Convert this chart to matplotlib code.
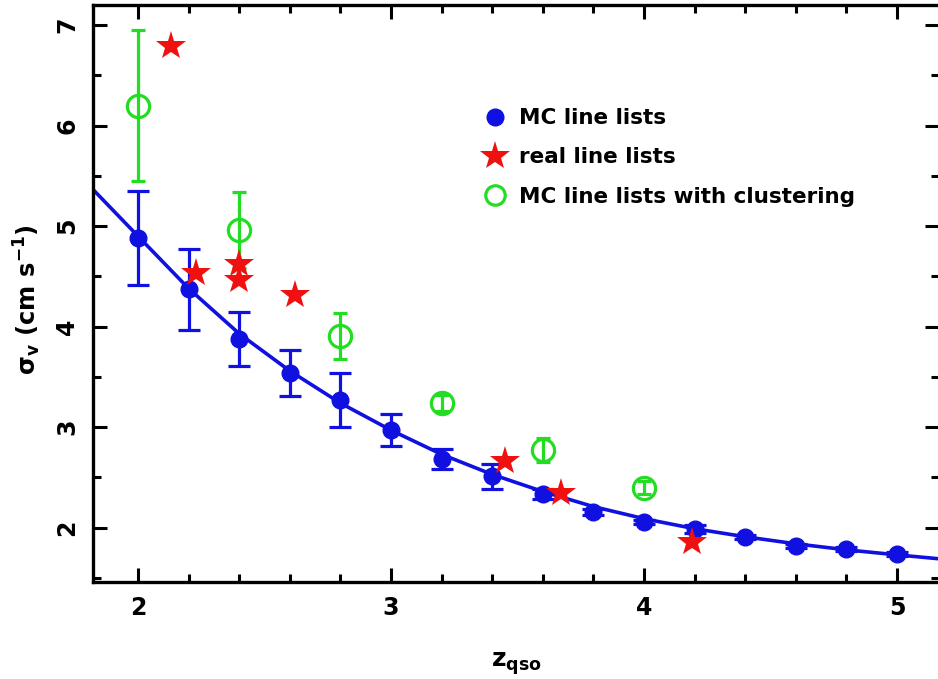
import matplotlib
matplotlib.use("Agg")
import matplotlib.pyplot as plt
from matplotlib.lines import Line2D
from matplotlib.ticker import MultipleLocator

# MC line lists
mc_z = [2.0, 2.2, 2.4, 2.6, 2.8, 3.0, 3.2, 3.4, 3.6, 3.8, 4.0, 4.2, 4.4, 4.6, 4.8, 5.0]
mc_sig = [4.88, 4.37, 3.88, 3.54, 3.27, 2.97, 2.68, 2.51, 2.34, 2.16, 2.06, 1.99, 1.91, 1.82, 1.79, 1.74]
mc_err = [0.47, 0.40, 0.27, 0.23, 0.27, 0.16, 0.10, 0.12, 0.05, 0.03, 0.02, 0.04, 0.02, 0.02, 0.02, 0.02]

# fitted curve
fit_z = [1.82, 2.0, 2.2, 2.4, 2.6, 2.8, 3.0, 3.2, 3.4, 3.6, 3.8, 4.0, 4.2, 4.4, 4.6, 4.8, 5.0, 5.17]
fit_sig = [5.37, 4.90, 4.38, 3.93, 3.56, 3.24, 2.97, 2.73, 2.53, 2.36, 2.21, 2.09, 1.99, 1.91, 1.84, 1.78, 1.73, 1.69]

# real line lists
real_z = [2.13, 2.23, 2.40, 2.40, 2.62, 3.45, 3.67, 4.19]
real_sig = [6.79, 4.53, 4.62, 4.46, 4.32, 2.66, 2.35, 1.86]

# MC line lists with clustering
cl_z = [2.0, 2.4, 2.8, 3.2, 3.6, 4.0]
cl_sig = [6.20, 4.96, 3.91, 3.24, 2.77, 2.40]
cl_err = [0.75, 0.38, 0.23, 0.08, 0.12, 0.06]

BLUE = "#1010e0"
RED = "#f01010"
GREEN = "#22dd22"

plt.rcParams['font.family'] = ['DejaVu Sans']
plt.rcParams['font.weight'] = 'bold'
plt.rcParams['axes.labelweight'] = 'bold'
plt.rcParams['mathtext.default'] = 'bf'

fig = plt.figure(figsize=(9.38, 6.79), dpi=100)
ax = fig.add_axes([93/938, (679-582)/679, (939-93)/938, (582-5)/679])

ax.plot(fit_z, fit_sig, color=BLUE, lw=2.6, zorder=2)
ax.errorbar(mc_z, mc_sig, yerr=mc_err, fmt='o', color=BLUE, ms=12,
            elinewidth=2.3, capsize=8, capthick=2.3, zorder=3)
ax.errorbar(cl_z, cl_sig, yerr=cl_err, fmt='o', mfc='none', mec=GREEN,
            mew=2.3, color=GREEN, ms=16, elinewidth=2.3, capsize=5,
            capthick=2.3, zorder=4)
ax.plot(real_z, real_sig, '*', color=RED, ms=22, mew=0, zorder=5)

ax.set_xlim(1.822, 5.166)
ax.set_ylim(1.46, 7.2)

ax.xaxis.set_major_locator(MultipleLocator(1))
ax.xaxis.set_minor_locator(MultipleLocator(0.2))
ax.yaxis.set_major_locator(MultipleLocator(1))
ax.yaxis.set_minor_locator(MultipleLocator(0.5))
ax.tick_params(which='both', direction='in', top=True, right=True, width=2.2,
               labelsize=17)
ax.tick_params(axis='x', pad=10)
ax.tick_params(axis='y', pad=10)
ax.tick_params(which='major', length=10)
ax.tick_params(which='minor', length=6)
ax.tick_params(axis='y', labelrotation=90)
for lab in ax.get_yticklabels():
    lab.set_va('center')
for s in ax.spines.values():
    s.set_linewidth(2.4)

ax.set_xlabel(r'$z_{\rm qso}$', fontsize=18, labelpad=22)
ax.set_ylabel(r'$\sigma_{\rm v}$ (cm s$^{-1}$)', fontsize=17.5,
              fontweight='bold')
ax.yaxis.set_label_coords(-0.059, 0.49)

handles = [
    Line2D([], [], ls='none', marker='o', color=BLUE, ms=12),
    Line2D([], [], ls='none', marker='*', color=RED, ms=22, mew=0),
    Line2D([], [], ls='none', marker='o', mfc='none', mec=GREEN, mew=2.3, ms=14),
]
labels = ['MC line lists', 'real line lists', 'MC line lists with clustering']
ax.legend(handles, labels, loc='upper left', bbox_to_anchor=(0.44, 0.855),
          frameon=False, handlelength=1.0, handletextpad=0.6,
          labelspacing=0.9, prop={'weight': 'bold', 'size': 15.5})

fig.savefig('out.png', dpi=100)
